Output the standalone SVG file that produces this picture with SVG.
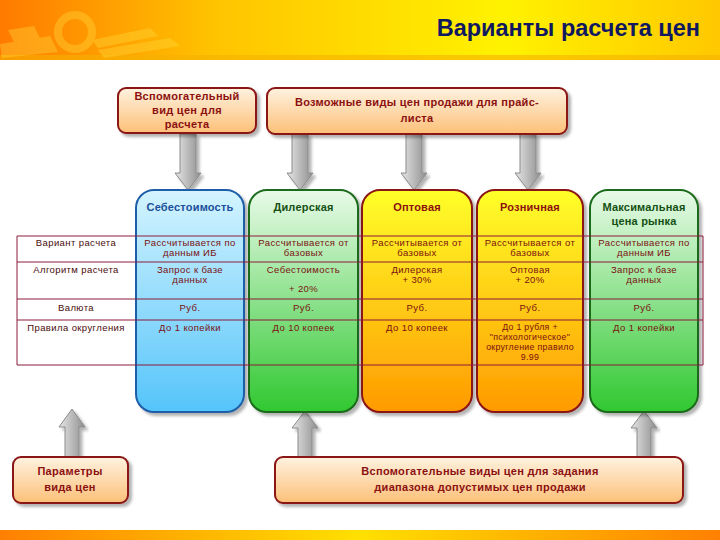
<svg xmlns="http://www.w3.org/2000/svg" width="720" height="540" viewBox="0 0 720 540">
<defs>
<linearGradient id="hdr" x1="0" y1="0" x2="1" y2="0">
<stop offset="0" stop-color="#ff7a00"/><stop offset="0.3" stop-color="#ffc400"/><stop offset="0.7" stop-color="#fff200"/><stop offset="1" stop-color="#ffc800"/>
</linearGradient>
<linearGradient id="ftr" x1="0" y1="0" x2="1" y2="0">
<stop offset="0" stop-color="#ff8000"/><stop offset="0.5" stop-color="#ffe000"/><stop offset="1" stop-color="#ff8000"/>
</linearGradient>
<linearGradient id="peach" x1="0" y1="0" x2="0" y2="1">
<stop offset="0" stop-color="#fff2e0"/><stop offset="1" stop-color="#fcc078"/>
</linearGradient>
<linearGradient id="blue" x1="0" y1="0" x2="0" y2="1">
<stop offset="0" stop-color="#d4f4ff"/><stop offset="1" stop-color="#55c4fa"/>
</linearGradient>
<linearGradient id="green" x1="0" y1="0" x2="0" y2="1">
<stop offset="0" stop-color="#e8fae8"/><stop offset="1" stop-color="#30c830"/>
</linearGradient>
<linearGradient id="yellow" x1="0" y1="0" x2="0" y2="1">
<stop offset="0" stop-color="#ffff2a"/><stop offset="1" stop-color="#ff9a00"/>
</linearGradient>
<linearGradient id="gray" x1="0" y1="0" x2="1" y2="0">
<stop offset="0" stop-color="#e6e6e6"/><stop offset="1" stop-color="#8e8e8e"/>
</linearGradient>
<filter id="sh" x="-10%" y="-10%" width="125%" height="125%">
<feDropShadow dx="3" dy="3" stdDeviation="1.5" flood-color="#000" flood-opacity="0.3"/>
</filter>
<style>
.box{fill:url(#peach);stroke:#8b1414;stroke-width:2;filter:url(#sh)}
.bt{font-family:"Liberation Sans",Arial,sans-serif;font-size:11px;font-weight:bold;fill:#8b1010;text-anchor:middle;letter-spacing:0.3px}
.col{stroke-width:2;filter:url(#sh)}
.ch{font-family:"Liberation Sans",Arial,sans-serif;font-size:11px;font-weight:bold;text-anchor:middle;letter-spacing:0.2px}
.ct{font-family:"Liberation Sans",Arial,sans-serif;font-size:9.5px;fill:#7a1010;text-anchor:middle;letter-spacing:0.4px}
.ct9{font-family:"Liberation Sans",Arial,sans-serif;font-size:8.8px;fill:#7a1010;text-anchor:middle;letter-spacing:0.3px}
.rl{font-family:"Liberation Sans",Arial,sans-serif;font-size:9.5px;fill:#4a0c0c;text-anchor:middle;letter-spacing:0.4px}
.tl{stroke:#8b1a3a;stroke-width:1;fill:none}
.arr{fill:url(#gray);stroke:#8a8a8a;stroke-width:1;filter:url(#sh)}
</style>
</defs>
<rect width="720" height="540" fill="#ffffff"/>
<g id="header">
<rect x="0" y="0" width="720" height="60" fill="url(#hdr)"/>
<rect x="0" y="55" width="720" height="5" fill="#f5b000" opacity="0.6"/>
<g fill="#ffe040" opacity="0.35">
<polygon points="8,30 34,26 40,38 14,42"/>
<polygon points="0,44 50,36 58,52 2,58"/>
<circle cx="75" cy="32" r="17" fill="none" stroke="#ffe040" stroke-width="8"/>
<polygon points="92,40 150,28 158,36 98,48"/>
<polygon points="98,50 170,38 180,46 104,58"/>
</g>
<text x="700" y="36" font-family="'Liberation Sans',Arial,sans-serif" font-size="23.5" font-weight="bold" fill="#101860" text-anchor="end">Варианты расчета цен</text>
</g>
<rect id="footer" x="0" y="530" width="720" height="10" fill="url(#ftr)"/>

<g id="connectors">
<polygon class="arr" points="180,134 196,134 196,173 201,173 188,190 175,173 180,173"/>
<polygon class="arr" points="292,134 308,134 308,173 313,173 300,190 287,173 292,173"/>
<polygon class="arr" points="406,134 422,134 422,173 427,173 414,190 401,173 406,173"/>
<polygon class="arr" points="520,134 536,134 536,173 541,173 528,190 515,173 520,173"/>
<polygon class="arr" points="72,409 85,427 79,427 79,457 65,457 65,427 59,427"/>
<polygon class="arr" points="305,411 318,428 312,428 312,457 298,457 298,428 292,428"/>
<polygon class="arr" points="644,411 657,428 651,428 651,457 637,457 637,428 631,428"/>
</g>

<g id="node-aux-top">
<rect class="box" x="118" y="88" width="138" height="45" rx="8"/>
<text class="bt" x="187" y="100">Вспомогательный</text>
<text class="bt" x="187" y="114">вид цен для</text>
<text class="bt" x="187" y="128">расчета</text>
</g>
<g id="node-sale-types">
<rect class="box" x="267" y="88" width="300" height="46" rx="8"/>
<text class="bt" x="417" y="106">Возможные виды цен продажи для прайс-</text>
<text class="bt" x="417" y="122">листа</text>
</g>

<g id="col-cost">
<rect class="col" x="136" y="190" width="108" height="222" rx="18" fill="url(#blue)" stroke="#1f5fa8"/>
<text class="ch" x="190" y="211" fill="#1a4f9a">Себестоимость</text>
</g>
<g id="col-dealer">
<rect class="col" x="249" y="190" width="109" height="222" rx="18" fill="url(#green)" stroke="#1a6b1a"/>
<text class="ch" x="303.5" y="211" fill="#145014">Дилерская</text>
</g>
<g id="col-wholesale">
<rect class="col" x="362" y="190" width="110" height="222" rx="18" fill="url(#yellow)" stroke="#8b1414"/>
<text class="ch" x="417" y="211" fill="#8b1010">Оптовая</text>
</g>
<g id="col-retail">
<rect class="col" x="477" y="190" width="106" height="222" rx="18" fill="url(#yellow)" stroke="#8b1414"/>
<text class="ch" x="530" y="211" fill="#8b1010">Розничная</text>
</g>
<g id="col-max">
<rect class="col" x="590" y="190" width="108" height="222" rx="18" fill="url(#green)" stroke="#1a6b1a"/>
<text class="ch" x="644" y="211" fill="#145014">Максимальная</text>
<text class="ch" x="644" y="225" fill="#145014">цена рынка</text>
</g>

<g id="table">
<line class="tl" x1="17" y1="236" x2="703" y2="236"/>
<line class="tl" x1="17" y1="262" x2="703" y2="262"/>
<line class="tl" x1="17" y1="299" x2="703" y2="299"/>
<line class="tl" x1="17" y1="320" x2="703" y2="320"/>
<line class="tl" x1="17" y1="365" x2="703" y2="365"/>
<line class="tl" x1="17" y1="236" x2="17" y2="365"/>
<line class="tl" x1="703" y1="236" x2="703" y2="365"/>
<text class="rl" x="76" y="246">Вариант расчета</text>
<text class="rl" x="76" y="273">Алгоритм расчета</text>
<text class="rl" x="76" y="311">Валюта</text>
<text class="rl" x="76" y="331">Правила округления</text>

<text class="ct" x="190" y="246">Рассчитывается по</text>
<text class="ct" x="190" y="256">данным ИБ</text>
<text class="ct" x="303.5" y="246">Рассчитывается от</text>
<text class="ct" x="303.5" y="256">базовых</text>
<text class="ct" x="417" y="246">Рассчитывается от</text>
<text class="ct" x="417" y="256">базовых</text>
<text class="ct" x="530" y="246">Рассчитывается от</text>
<text class="ct" x="530" y="256">базовых</text>
<text class="ct" x="644" y="246">Рассчитывается по</text>
<text class="ct" x="644" y="256">данным ИБ</text>

<text class="ct" x="190" y="273">Запрос к базе</text>
<text class="ct" x="190" y="283">данных</text>
<text class="ct" x="303.5" y="273">Себестоимость</text>
<text class="ct" x="303.5" y="292">+ 20%</text>
<text class="ct" x="417" y="273">Дилерская</text>
<text class="ct" x="417" y="283">+ 30%</text>
<text class="ct" x="530" y="273">Оптовая</text>
<text class="ct" x="530" y="283">+ 20%</text>
<text class="ct" x="644" y="273">Запрос к базе</text>
<text class="ct" x="644" y="283">данных</text>

<text class="ct" x="190" y="311">Руб.</text>
<text class="ct" x="303.5" y="311">Руб.</text>
<text class="ct" x="417" y="311">Руб.</text>
<text class="ct" x="530" y="311">Руб.</text>
<text class="ct" x="644" y="311">Руб.</text>

<text class="ct" x="190" y="331">До 1 копейки</text>
<text class="ct" x="303.5" y="331">До 10 копеек</text>
<text class="ct" x="417" y="331">До 10 копеек</text>
<text class="ct9" x="530" y="330">До 1 рубля +</text>
<text class="ct9" x="530" y="340">"психологическое"</text>
<text class="ct9" x="530" y="350">округление правило</text>
<text class="ct9" x="530" y="360">9.99</text>
<text class="ct" x="644" y="331">До 1 копейки</text>
</g>

<g id="node-params">
<rect class="box" x="13" y="457" width="115" height="46" rx="8"/>
<text class="bt" x="70" y="475">Параметры</text>
<text class="bt" x="70" y="491">вида цен</text>
</g>
<g id="node-aux-bottom">
<rect class="box" x="275" y="457" width="408" height="46" rx="8"/>
<text class="bt" x="480" y="475">Вспомогательные виды цен для задания</text>
<text class="bt" x="480" y="491">диапазона допустимых цен продажи</text>
</g>
</svg>
